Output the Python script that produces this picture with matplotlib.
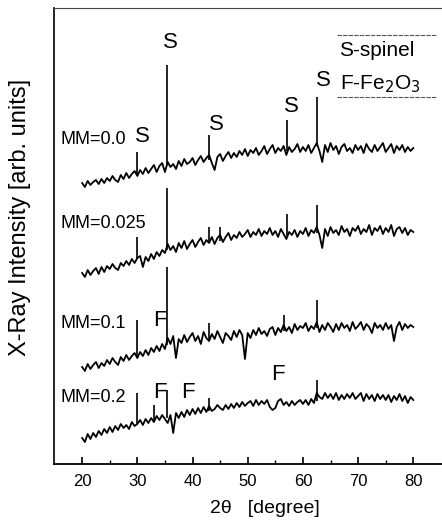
import numpy as np
import matplotlib
matplotlib.use('Agg')
import matplotlib.pyplot as plt

plt.rcParams['font.family'] = ['Liberation Sans', 'DejaVu Sans']

# 2theta grid (0.5 deg steps) and intensities (arb. units)
two_theta = np.arange(20.0, 80.25, 0.5)

mm00 = [281, 277, 283, 279, 282, 284, 280, 285, 281, 286,
        283, 288, 284, 282, 289, 285, 291, 286, 290, 293,
        288, 294, 290, 296, 291, 295, 299, 292, 298, 301,
        292, 302, 297, 300, 295, 303, 298, 305, 300, 302,
        306, 299, 304, 308, 302, 306, 309, 301, 294, 307,
        310, 303, 308, 312, 306, 311, 307, 313, 309, 315,
        308, 314, 311, 316, 309, 313, 318, 310, 315, 319,
        311, 316, 313, 318, 309, 317, 312, 315, 320, 312,
        317, 313, 319, 311, 316, 321, 313, 302, 319, 312,
        321, 314, 318, 310, 317, 320, 313, 316, 311, 319,
        314, 318, 311, 320, 315, 312, 319, 313, 317, 321,
        312, 316, 320, 311, 318, 314, 319, 312, 317, 313,
        316]

mm0025 = [191, 187, 194, 189, 193, 196, 190, 197, 192, 198,
          195, 200, 196, 194, 201, 198, 203, 199, 205, 201,
          206, 208, 197, 207, 203, 210, 205, 212, 208, 214,
          211, 220, 214, 218, 212, 221, 216, 223, 215, 220,
          224, 217, 222, 226, 219, 224, 221, 227, 220, 226,
          229, 222, 227, 231, 224, 229, 226, 232, 227, 230,
          234, 227, 232, 229, 235, 228, 233, 230, 236, 229,
          233, 227, 235, 230, 225, 232, 229, 234, 227, 233,
          230, 236, 228, 234, 231, 237, 229, 216, 235, 228,
          237, 231, 234, 229, 238, 232, 235, 228, 236, 233,
          238, 230, 235, 232, 239, 229, 236, 233, 238, 230,
          236, 232, 239, 228, 235, 237, 231, 236, 229, 234,
          232]

mm01 = [97, 93, 100, 95, 99, 102, 96, 101, 98, 104,
        100, 106, 102, 99, 107, 103, 109, 104, 108, 111,
        106, 112, 108, 114, 109, 116, 112, 118, 113, 120,
        115, 126, 120, 128, 106, 125, 121, 129, 122, 127,
        131, 123, 128, 120, 132, 126, 123, 130, 125, 133,
        127, 121, 131, 128, 124, 133, 127, 134, 129, 105,
        131, 126, 134, 129, 136, 130, 133, 128, 135, 137,
        129, 136, 132, 139, 133, 137, 131, 140, 134, 138,
        136, 141, 133, 138, 135, 142, 132, 139, 134, 141,
        137, 132, 140, 134, 141, 136, 139, 133, 142, 135,
        138, 142, 134, 140, 137, 131, 141, 136, 139, 134,
        141, 135, 139, 123, 137, 142, 134, 140, 136, 139,
        137]

mm02 = [26, 22, 30, 25, 31, 27, 33, 29, 35, 31,
        37, 32, 38, 34, 40, 36, 39, 35, 42, 38,
        40, 44, 39, 45, 41, 46, 42, 48, 44, 49,
        45, 41, 49, 31, 51, 46, 52, 47, 54, 49,
        55, 50, 56, 51, 57, 52, 58, 53, 55, 59,
        56, 54, 59, 55, 60, 56, 61, 57, 62, 58,
        61, 63, 58, 64, 59, 63, 60, 64, 57, 54,
        56, 63, 65, 59, 62, 58, 63, 59, 62, 64,
        60, 64, 59, 65, 61, 71, 67, 65, 71, 66,
        70, 65, 71, 64, 69, 65, 70, 66, 71, 65,
        68, 71, 63, 70, 65, 69, 63, 70, 65, 69,
        64, 69, 62, 68, 64, 70, 63, 68, 61, 67,
        64]

# sharp reflections: position, foot, top
pk00_pos = [30.0, 35.4, 43.0, 57.1, 62.6]
pk00_lo = [290, 299, 304, 313, 318]
pk00_hi = [312, 399, 329, 344, 367]

pk0025_pos = [30.0, 35.4, 43.0, 45.0, 57.1, 62.6]
pk0025_lo = [205, 214, 221, 223, 228, 231]
pk0025_hi = [227, 276, 237, 237, 250, 259]

pk01_pos = [30.0, 35.4, 43.0, 56.5, 62.6]
pk01_lo = [108, 119, 124, 133, 136]
pk01_hi = [144, 197, 141, 149, 164]

pk02_pos = [30.0, 33.0, 35.4, 43.0, 62.6]
pk02_lo = [40, 44, 46, 53, 63]
pk02_hi = [71, 59, 74, 66, 84]

fig = plt.figure(figsize=(4.42, 5.24), dpi=100)
ax = fig.add_axes([54 / 442, 60 / 524, 388 / 442, 456 / 524])

for y in [mm00, mm0025, mm01, mm02]:
    ax.plot(two_theta, y, color='black', lw=1.3)
for p, lo, hi in [(pk00_pos, pk00_lo, pk00_hi), (pk0025_pos, pk0025_lo, pk0025_hi),
                  (pk01_pos, pk01_lo, pk01_hi), (pk02_pos, pk02_lo, pk02_hi)]:
    ax.vlines(p, lo, hi, color='black', lw=1.2)

ax.set_xlim(14.9, 85.2)
ax.set_ylim(0, 456)
ax.set_xticks([20, 30, 40, 50, 60, 70, 80])
ax.set_xticks([25, 35, 45, 55, 65, 75], minor=True)
ax.set_yticks([])
ax.tick_params(axis='x', which='major', direction='in', length=5, width=1.2, labelsize=12, pad=7)
ax.tick_params(axis='x', which='minor', direction='in', length=3, width=1)
ax.spines['right'].set_visible(False)
ax.spines['top'].set_linewidth(0.8)
ax.spines['top'].set_color('#444444')
ax.spines['left'].set_linewidth(1.2)
ax.spines['bottom'].set_linewidth(1.3)

# sample labels
ax.text(16.0, 324, 'MM=0.0', fontsize=13, va='center', ha='left')
ax.text(16.0, 241, 'MM=0.025', fontsize=13, va='center', ha='left')
ax.text(16.0, 141, 'MM=0.1', fontsize=13, va='center', ha='left')
ax.text(16.0, 66, 'MM=0.2', fontsize=13, va='center', ha='left')

# phase markers
for x, y, s in [(30.9, 327, 'S'), (36.0, 421, 'S'), (44.3, 339, 'S'), (57.9, 357, 'S'),
                (63.7, 384, 'S'), (34.1, 144, 'F'), (34.1, 72, 'F'), (39.2, 72, 'F'),
                (55.5, 89, 'F')]:
    ax.text(x, y, s, fontsize=16, ha='center', va='center')

ax.text(66.6, 413, 'S-spinel', fontsize=15, ha='left', va='center')
ax.text(66.8, 380, 'F-Fe$_2$O$_3$', fontsize=15, ha='left', va='center')
ax.plot([66.2, 84.3], [429, 429], color='#555555', lw=0.8, ls=(0, (4, 1)))
ax.plot([66.2, 84.3], [367, 367], color='#555555', lw=0.8, ls=(0, (4, 1)))

ax.set_xlabel('2θ   [degree]', fontsize=14)
ax.xaxis.set_label_coords(0.544, -0.078)
ax.set_ylabel('X-Ray Intensity [arb. units]', fontsize=17)
ax.yaxis.set_label_coords(-0.058, 0.54)

plt.savefig('out.png', dpi=100)
